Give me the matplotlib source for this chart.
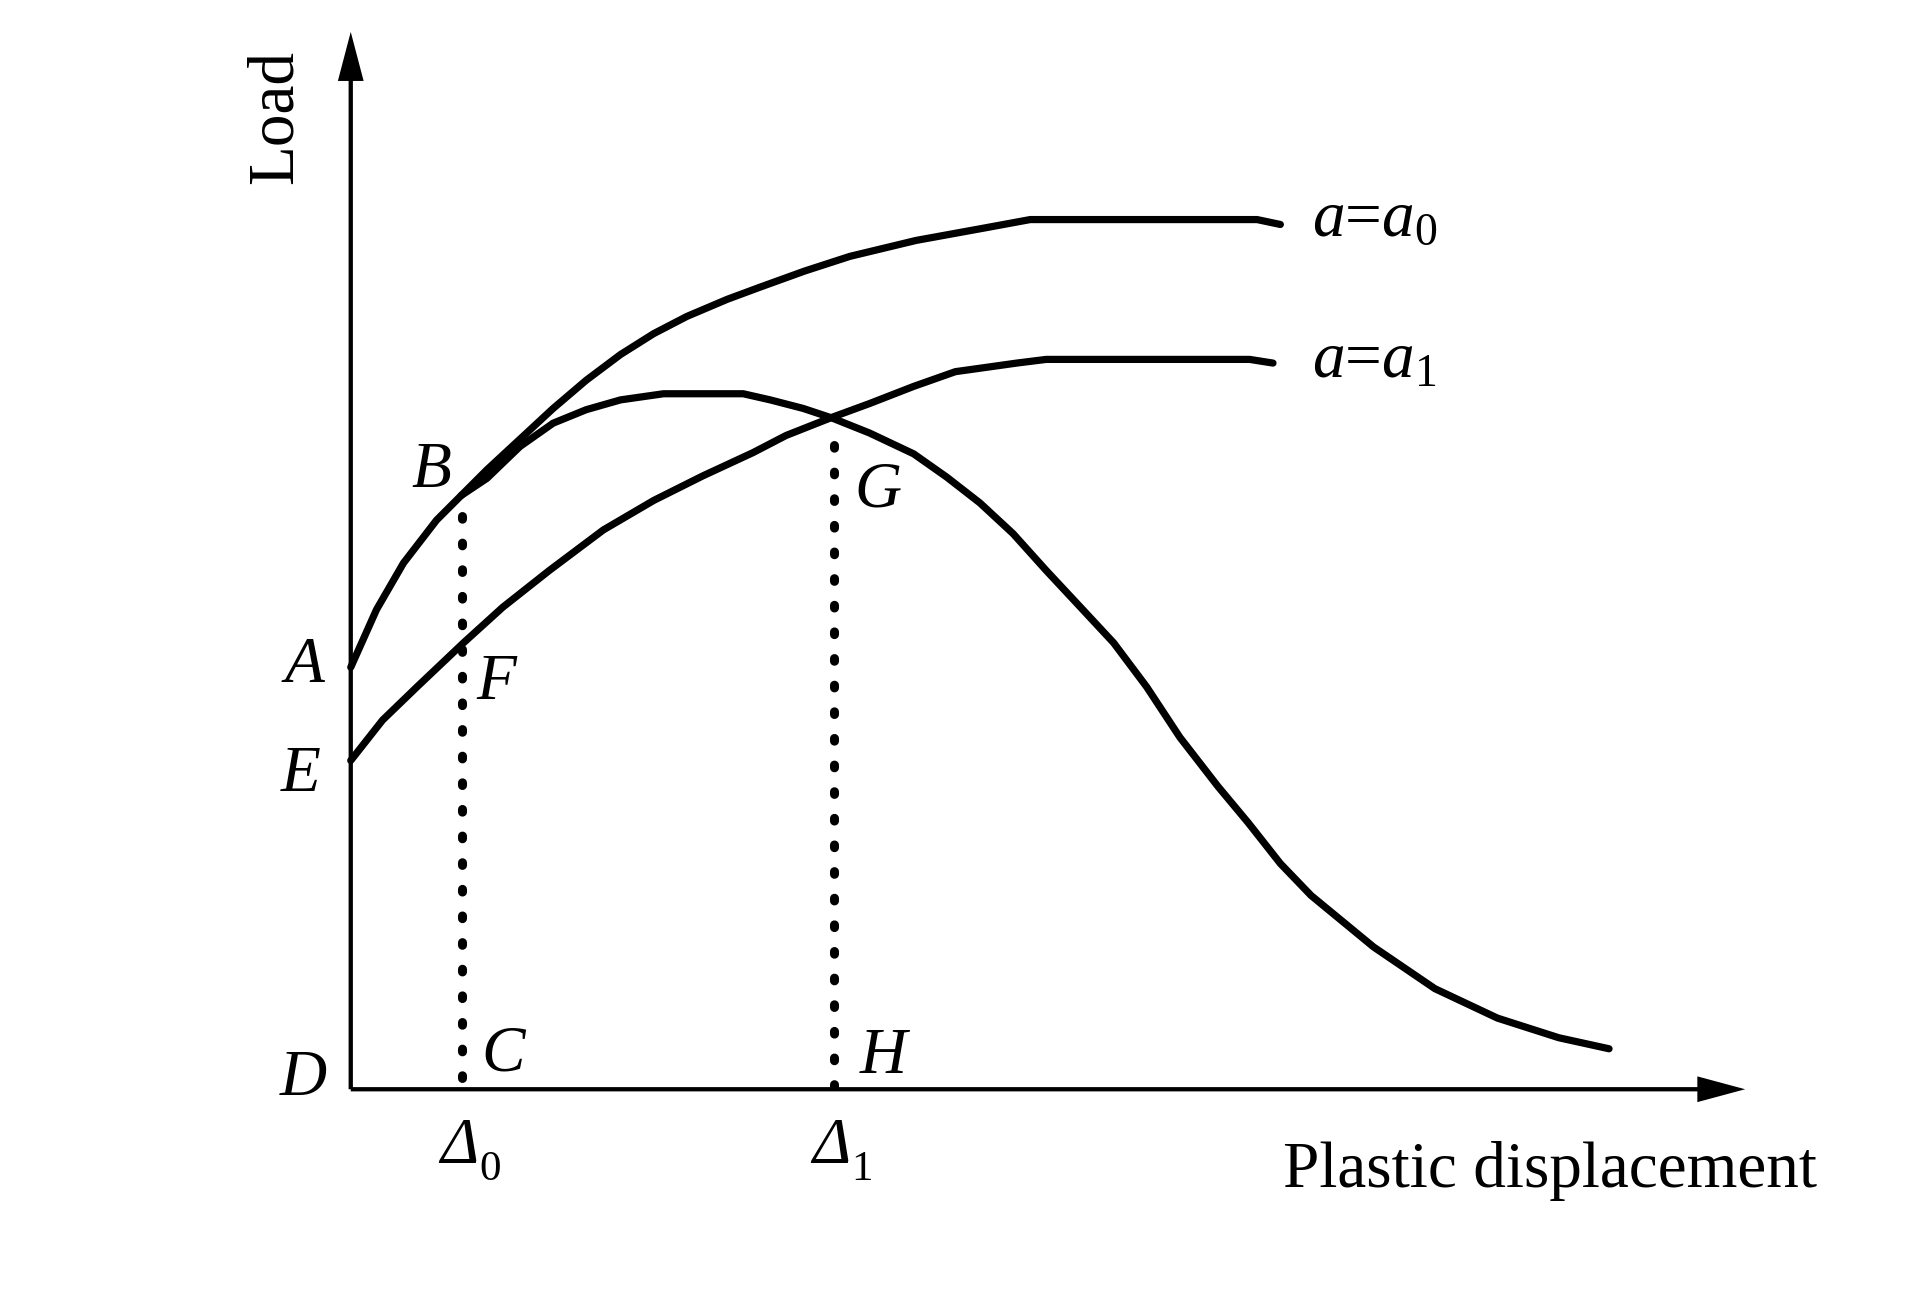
import matplotlib
matplotlib.use('Agg')
import matplotlib.pyplot as plt

plt.rcParams['font.family'] = 'Liberation Serif'
plt.rcParams['mathtext.fontset'] = 'custom'
plt.rcParams['mathtext.rm'] = 'Liberation Serif'
plt.rcParams['mathtext.it'] = 'Liberation Serif:italic'

# кривая a = a0 (пластическое смещение, нагрузка), условные единицы
a0_x = [0.00, 0.21, 0.43, 0.70, 0.90, 1.11, 1.38, 1.65, 1.92, 2.20, 2.47, 2.74, 3.07, 3.34,
        3.70, 4.07, 4.61, 5.16, 5.54, 7.39, 7.58]
a0_y = [3.44, 3.91, 4.29, 4.64, 4.84, 5.05, 5.30, 5.55, 5.78, 5.99, 6.16, 6.30, 6.44, 6.54,
        6.67, 6.79, 6.92, 7.02, 7.09, 7.09, 7.05]

# кривая a = a1
a1_x = [0.00, 0.26, 0.54, 0.92, 1.24, 1.62, 2.06, 2.47, 2.87, 3.28, 3.55, 3.93, 4.23, 4.59,
        4.93, 5.43, 5.67, 7.33, 7.52]
a1_y = [2.68, 3.01, 3.28, 3.64, 3.93, 4.23, 4.56, 4.80, 5.00, 5.19, 5.33, 5.48, 5.59, 5.73,
        5.85, 5.92, 5.95, 5.95, 5.92]

# кривая нагрузки образца (от B через G вниз)
test_x = [0.90, 1.11, 1.38, 1.65, 1.92, 2.20, 2.55, 3.20, 3.42, 3.69, 3.93, 4.23, 4.59, 4.86,
          5.13, 5.40, 5.67, 5.95, 6.22, 6.49, 6.76, 7.07, 7.32, 7.58, 7.83, 8.34, 8.59, 8.84,
          9.35, 9.60, 9.85, 10.26]
test_y = [4.84, 4.98, 5.24, 5.43, 5.54, 5.62, 5.67, 5.67, 5.62, 5.55, 5.47, 5.35, 5.18, 4.99,
          4.78, 4.53, 4.23, 3.93, 3.64, 3.28, 2.87, 2.47, 2.17, 1.84, 1.58, 1.16, 0.99, 0.82,
          0.58, 0.50, 0.42, 0.33]

# пунктирные линии Δ0 и Δ1
delta_x = [0.905, 3.94]
delta_top = [4.67, 5.25]
delta_sub = ['0', '1']

# буквенные обозначения точек
point_labels = ['A', 'E', 'D', 'B', 'F', 'G', 'C', 'H']
point_x = [-0.38, -0.41, -0.39, 0.66, 1.19, 4.30, 1.24, 4.34]
point_y = [3.45, 2.56, 0.08, 5.04, 3.31, 4.88, 0.28, 0.26]

fig = plt.figure(figsize=(19.23, 12.99), dpi=100)
ax = fig.add_axes([0, 0, 1, 1])
ax.set_xlim(-2.86, 12.82)
ax.set_ylim(-1.71, 8.88)
ax.axis('off')

# оси со стрелками
ax.arrow(0, 0, 11.37, 0, width=0.035, head_width=0.21, head_length=0.39,
         length_includes_head=True, color='black', lw=0)
ax.arrow(0, 0, 0, 8.62, width=0.035, head_width=0.21, head_length=0.40,
         length_includes_head=True, color='black', lw=0)

line_kw = dict(color='black', lw=5.2, solid_capstyle='round', solid_joinstyle='round')
ax.plot(a0_x, a0_y, **line_kw)
ax.plot(a1_x, a1_y, **line_kw)
ax.plot(test_x, test_y, **line_kw)

for x, top in zip(delta_x, delta_top):
    ax.plot([x, x], [top, 0.03], color='black', lw=6.5,
            linestyle=(0, (0.3, 2.65)), dash_capstyle='round')

fs = 47
for lab, x, y in zip(point_labels, point_x, point_y):
    ax.text(x, y, lab, fontsize=fs, fontstyle='italic', ha='center', va='center')

# Δ курсивом, индекс прямым шрифтом
for x, sub in zip(delta_x, delta_sub):
    ax.text(x - 0.02, -0.60, 'Δ', fontsize=fs, fontstyle='italic', ha='center', va='baseline')
    ax.text(x + 0.14, -0.74, sub, fontsize=31, ha='left', va='baseline')

ax.text(7.84, 6.96, r'$a$=$a_0$', fontsize=fs, ha='left', va='baseline')
ax.text(7.84, 5.81, r'$a$=$a_1$', fontsize=fs, ha='left', va='baseline')

ax.text(9.78, -0.80, 'Plastic displacement', fontsize=fs, ha='center', va='baseline')
ax.text(-0.61, 7.93, 'Load', fontsize=fs, rotation=90, ha='center', va='center')

fig.savefig('out.png', dpi=100)
